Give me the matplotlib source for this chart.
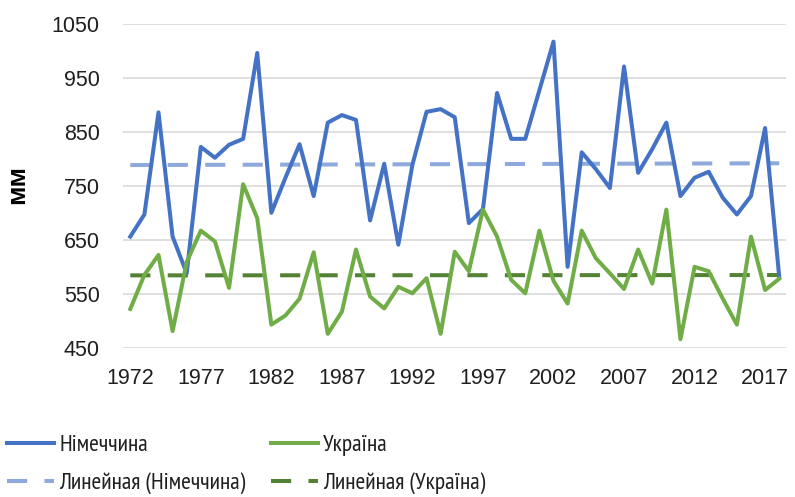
import numpy as np
import matplotlib
matplotlib.use("Agg")
import matplotlib.pyplot as plt

# annual precipitation, mm
years = list(range(1972, 2019))
germany = [657, 698, 887, 657, 589, 823, 803, 827, 838, 997,
           701, 766, 828, 732, 868, 882, 873, 687, 792, 642,
           790, 888, 893, 878, 682, 708, 923, 838, 838, 928,
           1018, 601, 813, 782, 747, 972, 775, 819, 868, 732,
           766, 777, 729, 698, 732, 858, 583]
ukraine = [523, 586, 623, 482, 610, 668, 648, 562, 754, 691,
           494, 511, 542, 628, 477, 518, 633, 546, 524, 564,
           552, 580, 477, 629, 593, 707, 657, 577, 552, 668,
           575, 533, 668, 617, 589, 560, 633, 570, 707, 467,
           601, 593, 542, 494, 657, 558, 579]
xticks = list(range(1972, 2018, 5))
yticks = list(range(450, 1051, 100))

plt.rcParams['font.family'] = ['Liberation Sans', 'DejaVu Sans']
txt = '#1f1f1f'

fig = plt.figure(figsize=(7.95, 4.97), dpi=100)
ax = fig.add_axes([0.155, 0.299, 0.834, 0.652])

x = np.array(years)
ax.plot(x, germany, color='#4472C4', lw=2.9, label='Німеччина', zorder=3)
ax.plot(x, ukraine, color='#70AD47', lw=2.9, label='Україна', zorder=3)

# linear trends
kg = np.polyfit(x, germany, 1)
ku = np.polyfit(x, ukraine, 1)
ax.plot(x, np.polyval(kg, x), color='#8EA9DB', lw=2.9, dashes=(5, 4.3),
        label='Линейная (Німеччина)', zorder=2)
ax.plot(x, np.polyval(ku, x), color='#548235', lw=2.9, dashes=(5, 4.3),
        label='Линейная (Україна)', zorder=2)

ax.set_xlim(1971.5, 2018.5)
ax.set_ylim(450, 1050)
ax.set_xticks(xticks)
ax.set_yticks(yticks)
ax.grid(axis='y', color='#D9D9D9', lw=1.2)
ax.set_axisbelow(True)
for s in ax.spines.values():
    s.set_visible(False)
ax.tick_params(axis='both', length=0, labelsize=15.5, colors=txt)
ax.tick_params(axis='x', pad=14)
ax.tick_params(axis='y', pad=17)
ax.set_ylabel('мм', fontsize=19, fontweight='bold', color='black')
ax.yaxis.set_label_coords(-0.142, 0.507)

h, l = ax.get_legend_handles_labels()
order = [0, 2, 1, 3]
fig.legend([h[i] for i in order], [l[i] for i in order], ncol=2,
           loc='upper left', bbox_to_anchor=(-0.003, 0.145), frameon=False,
           prop={'family': ['PT Sans Narrow', 'Roboto Condensed', 'Liberation Sans'],
                 'size': 17},
           handlelength=2.0, handletextpad=0.2, columnspacing=1.1,
           labelspacing=0.7, labelcolor=txt, borderaxespad=0)

fig.savefig('out.png', dpi=100)
